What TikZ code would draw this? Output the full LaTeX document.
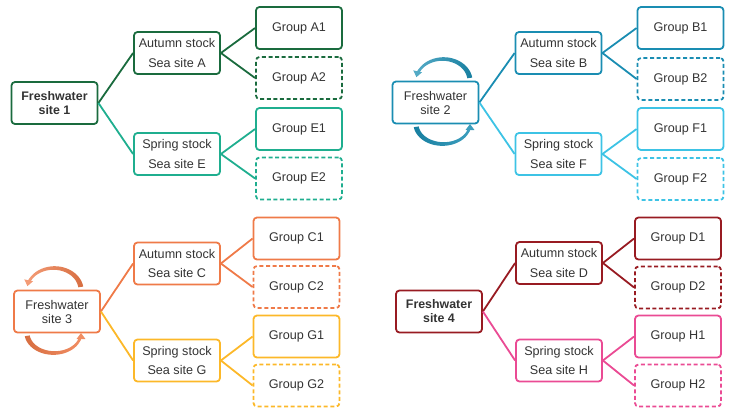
\documentclass[tikz,border=0pt]{standalone}
\usepackage{fontspec}
\setmainfont{Liberation Sans}
\usetikzlibrary{arrows.meta}
\definecolor{cgA}{HTML}{1A6B3E}
\definecolor{cgE}{HTML}{1FAE8F}
\definecolor{cbB}{HTML}{1A8DB2}
\definecolor{cbF}{HTML}{3DC3E5}
\definecolor{coC}{HTML}{EF7A48}
\definecolor{coG}{HTML}{FCB829}
\definecolor{crD}{HTML}{981B22}
\definecolor{crH}{HTML}{EA4B94}
\definecolor{txt}{HTML}{333333}
% tapered cycle arrows: #1 centre x, #2 top-arc centre y, #3 bottom-arc centre y, #4 colour
\newcommand\cyclearrows[4]{%
  \shade[left color=#4!75!white, right color=#4!90!black]
    plot[domain=-8:-156, samples=40] ({#1+(27+(1.2+1.3*(\x+156)/148))*cos(\x)},{#2+(22+(1.2+1.3*(\x+156)/148))*sin(\x)})
    -- plot[domain=-156:-8, samples=40] ({#1+(27-(1.2+1.3*(\x+156)/148))*cos(\x)},{#2+(22-(1.2+1.3*(\x+156)/148))*sin(\x)})
    -- cycle;
  \draw[line width=2.4pt, #4!75!white, -{Triangle[width=8.5pt,length=6pt]}]
    (#1,#2) ++(-148:27 and 22) arc[start angle=-148, end angle=-170, x radius=27, y radius=22];
  \shade[left color=#4!90!black, right color=#4!85!white]
    plot[domain=172:14, samples=40] ({#1+(27+(1.2+1.3*(\x-14)/158))*cos(\x)},{#3+(20+(1.2+1.3*(\x-14)/158))*sin(\x)})
    -- plot[domain=14:172, samples=40] ({#1+(27-(1.2+1.3*(\x-14)/158))*cos(\x)},{#3+(20-(1.2+1.3*(\x-14)/158))*sin(\x)})
    -- cycle;
  \draw[line width=2.4pt, #4!85!white, -{Triangle[width=8.5pt,length=6pt]}]
    (#1,#3) ++(22:27 and 20) arc[start angle=22, end angle=0, x radius=27, y radius=20];
}
\begin{document}
\begin{tikzpicture}[x=1pt,y=-1pt,
  box/.style={draw, line width=1.8pt, rounded corners=3.5pt, minimum width=86pt, minimum height=42pt, inner sep=0pt, text=txt, align=center},
  fwbox/.style={box, font=\fontsize{12.6}{14}\selectfont},
  fwbold/.style={fwbox, font=\fontsize{12.4}{14}\selectfont\bfseries},
  stockbox/.style={box, font=\fontsize{12.6}{19.5}\selectfont},
  grpbox/.style={box, font=\fontsize{12.6}{15}\selectfont},
  dbox/.style={grpbox, dash pattern=on 4pt off 2.6pt},
  link/.style={line width=1.8pt}
]
\useasboundingbox (0,0) rectangle (734,408);
% ---------- Quadrant 1 ----------
\node[fwbold, draw=cgA] (fw1) at (54.5,103) {Freshwater\\site 1};
\node[stockbox, draw=cgA] (autA) at (177,53) {Autumn stock\\Sea site A};
\node[grpbox, draw=cgA] (gA1) at (299,28) {Group A1};
\node[dbox, draw=cgA] (gA2) at (299,78) {Group A2};
\node[stockbox, draw=cgE] (sprE) at (177,154) {Spring stock\\Sea site E};
\node[grpbox, draw=cgE] (gE1) at (299,129) {Group E1};
\node[dbox, draw=cgE] (gE2) at (299,178.5) {Group E2};
\draw[link, cgA] (fw1.east) -- (autA.west);
\draw[link, cgE] (fw1.east) -- (sprE.west);
\draw[link, cgA] (autA.east) -- (gA1.west);
\draw[link, cgA] (autA.east) -- (gA2.west);
\draw[link, cgE] (sprE.east) -- (gE1.west);
\draw[link, cgE] (sprE.east) -- (gE2.west);
% ---------- Quadrant 2 ----------
\node[fwbox, draw=cbB] (fw2) at (435.5,102.5) {Freshwater\\site 2};
\node[stockbox, draw=cbB] (autB) at (558.5,53) {Autumn stock\\Sea site B};
\node[grpbox, draw=cbB] (gB1) at (680.5,28) {Group B1};
\node[dbox, draw=cbB] (gB2) at (680.5,79) {Group B2};
\node[stockbox, draw=cbF] (sprF) at (558.5,154) {Spring stock\\Sea site F};
\node[grpbox, draw=cbF] (gF1) at (680.5,129) {Group F1};
\node[dbox, draw=cbF] (gF2) at (680.5,179) {Group F2};
\draw[link, cbB] (fw2.east) -- (autB.west);
\draw[link, cbF] (fw2.east) -- (sprF.west);
\draw[link, cbB] (autB.east) -- (gB1.west);
\draw[link, cbB] (autB.east) -- (gB2.west);
\draw[link, cbF] (sprF.east) -- (gF1.west);
\draw[link, cbF] (sprF.east) -- (gF2.west);
\cyclearrows{443}{81}{124}{cbB}
% ---------- Quadrant 3 ----------
\node[fwbox, draw=coC] (fw3) at (57,311.5) {Freshwater\\site 3};
\node[stockbox, draw=coC] (autC) at (177,263.5) {Autumn stock\\Sea site C};
\node[grpbox, draw=coC] (gC1) at (296.5,238.5) {Group C1};
\node[dbox, draw=coC] (gC2) at (296.5,287) {Group C2};
\node[stockbox, draw=coG] (sprG) at (177,360.5) {Spring stock\\Sea site G};
\node[grpbox, draw=coG] (gG1) at (296.5,336.5) {Group G1};
\node[dbox, draw=coG] (gG2) at (296.5,385.5) {Group G2};
\draw[link, coC] (fw3.east) -- (autC.west);
\draw[link, coG] (fw3.east) -- (sprG.west);
\draw[link, coC] (autC.east) -- (gC1.west);
\draw[link, coC] (autC.east) -- (gC2.west);
\draw[link, coG] (sprG.east) -- (gG1.west);
\draw[link, coG] (sprG.east) -- (gG2.west);
\cyclearrows{54}{290}{333}{coC}
% ---------- Quadrant 4 ----------
\node[fwbold, draw=crD] (fw4) at (439,311.5) {Freshwater\\site 4};
\node[stockbox, draw=crD] (autD) at (559,263) {Autumn stock\\Sea site D};
\node[grpbox, draw=crD] (gD1) at (678,238.5) {Group D1};
\node[dbox, draw=crD] (gD2) at (678,287.5) {Group D2};
\node[stockbox, draw=crH] (sprH) at (559,360.5) {Spring stock\\Sea site H};
\node[grpbox, draw=crH] (gH1) at (678,336.5) {Group H1};
\node[dbox, draw=crH] (gH2) at (678,385.5) {Group H2};
\draw[link, crD] (fw4.east) -- (autD.west);
\draw[link, crH] (fw4.east) -- (sprH.west);
\draw[link, crD] (autD.east) -- (gD1.west);
\draw[link, crD] (autD.east) -- (gD2.west);
\draw[link, crH] (sprH.east) -- (gH1.west);
\draw[link, crH] (sprH.east) -- (gH2.west);
\end{tikzpicture}
\end{document}
